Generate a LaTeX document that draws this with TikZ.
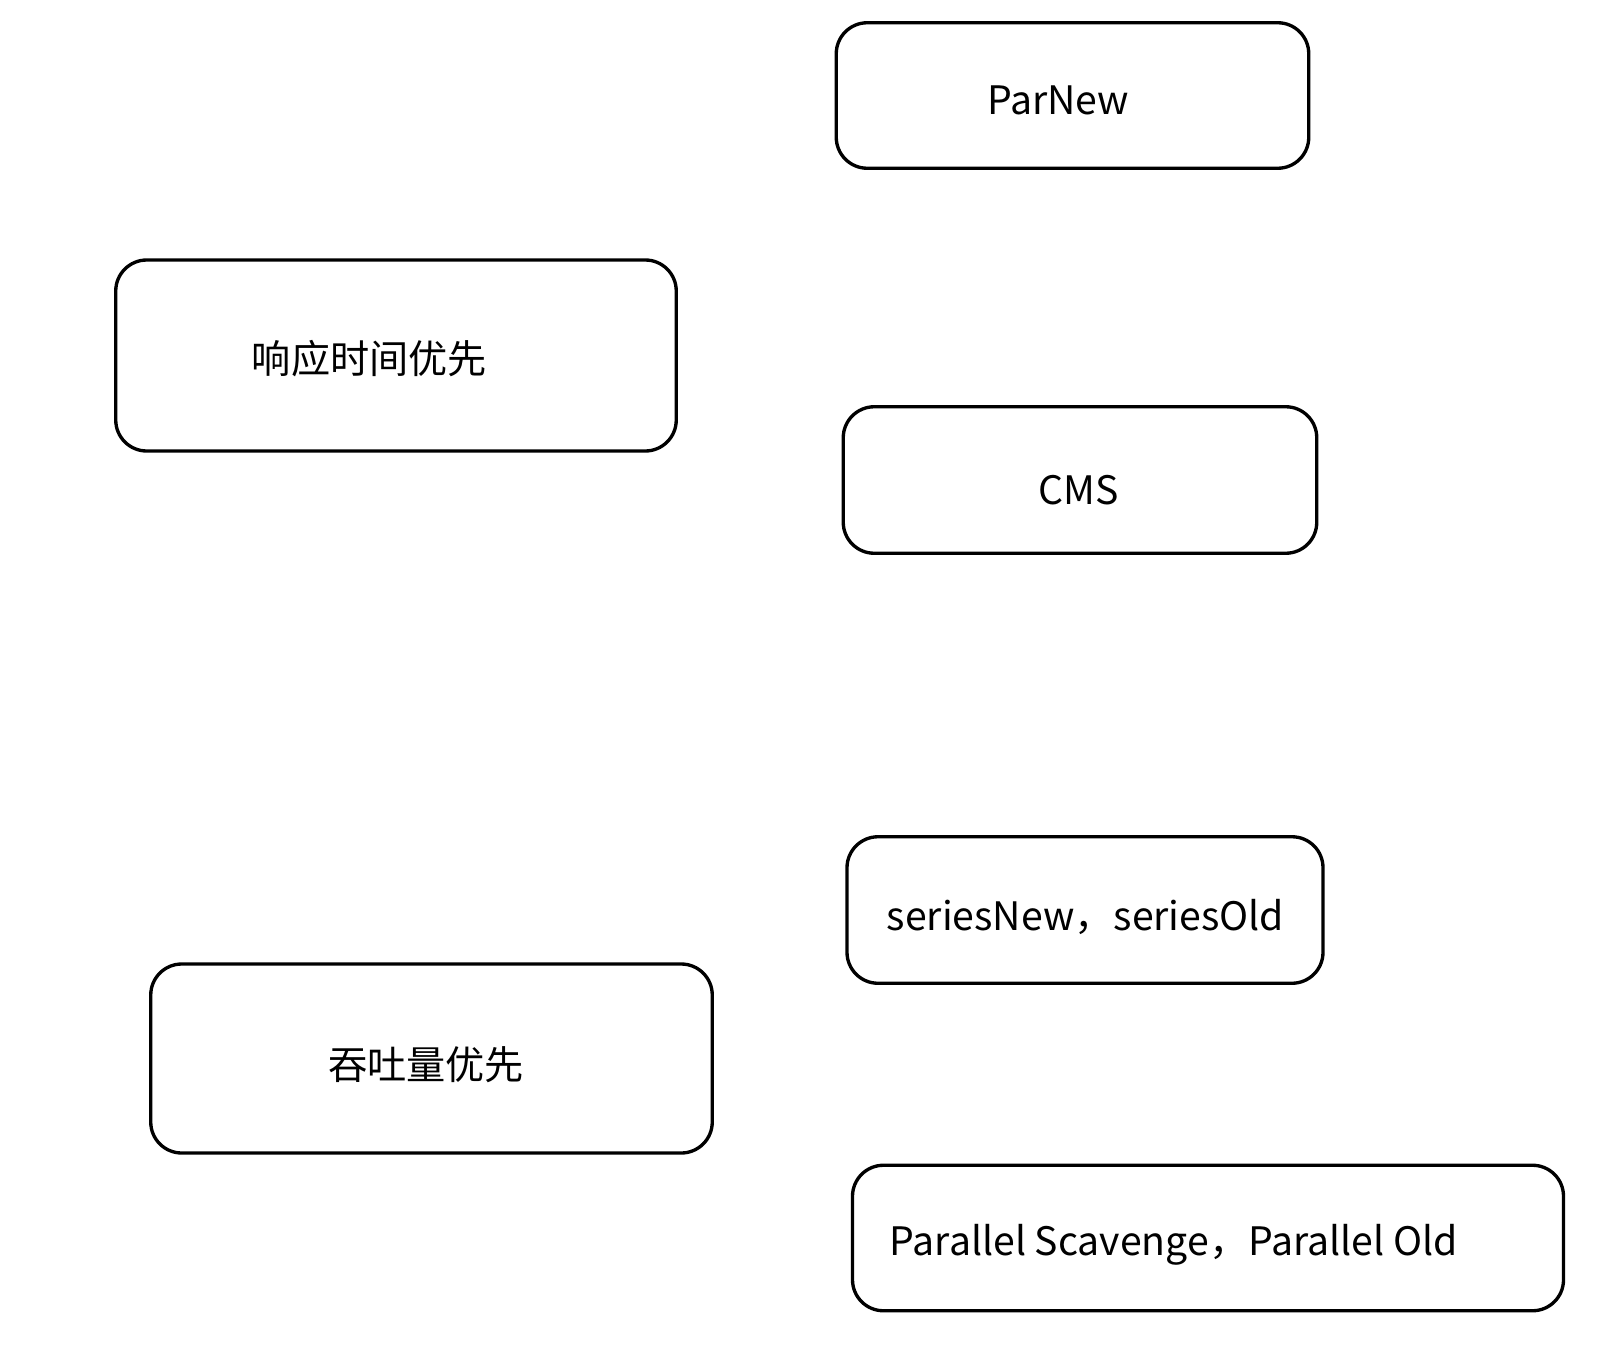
\documentclass[tikz,border=0pt]{standalone}
\usepackage{fontspec}
\setmainfont{Noto Sans CJK SC}
\tikzset{
    gcbox/.style={draw, line width=1.9pt, rounded corners=0.62cm},
    gctext/.style={font=\fontsize{22.3}{27}\selectfont, inner sep=0pt}
}
\begin{document}
\begin{tikzpicture}
    \useasboundingbox (0,0) rectangle (32.36,-27.16);

    % Boxes
    \node[gcbox, minimum width=9.45cm, minimum height=2.91cm]
        (parnew) at (21.45,-1.91) {};
    \node[gcbox, minimum width=11.21cm, minimum height=3.82cm]
        (resp) at (7.92,-7.11) {};
    \node[gcbox, minimum width=9.47cm, minimum height=2.93cm]
        (cms) at (21.60,-9.60) {};
    \node[gcbox, minimum width=9.52cm, minimum height=2.93cm]
        (serial) at (21.70,-18.20) {};
    \node[gcbox, minimum width=11.23cm, minimum height=3.78cm]
        (thru) at (8.63,-21.17) {};
    \node[gcbox, minimum width=14.22cm, minimum height=2.91cm]
        (parallel) at (24.16,-24.76) {};

    % Labels
    \node[gctext] (parnewtext) at (21.16,-2.00) {ParNew};
    \node[gctext] (resptext) at (7.39,-7.18) {响应时间优先};
    \node[gctext] (cmstext) at (21.57,-9.80) {CMS};
    \node[gctext] (serialtext) at (21.71,-18.33) {seriesNew，seriesOld};
    \node[gctext] (thrutext) at (8.52,-21.30) {吞吐量优先};
    \node[gctext, anchor=west] (paralleltext) at (17.79,-24.89)
        {Parallel Scavenge，Parallel Old};

\end{tikzpicture}
\end{document}
